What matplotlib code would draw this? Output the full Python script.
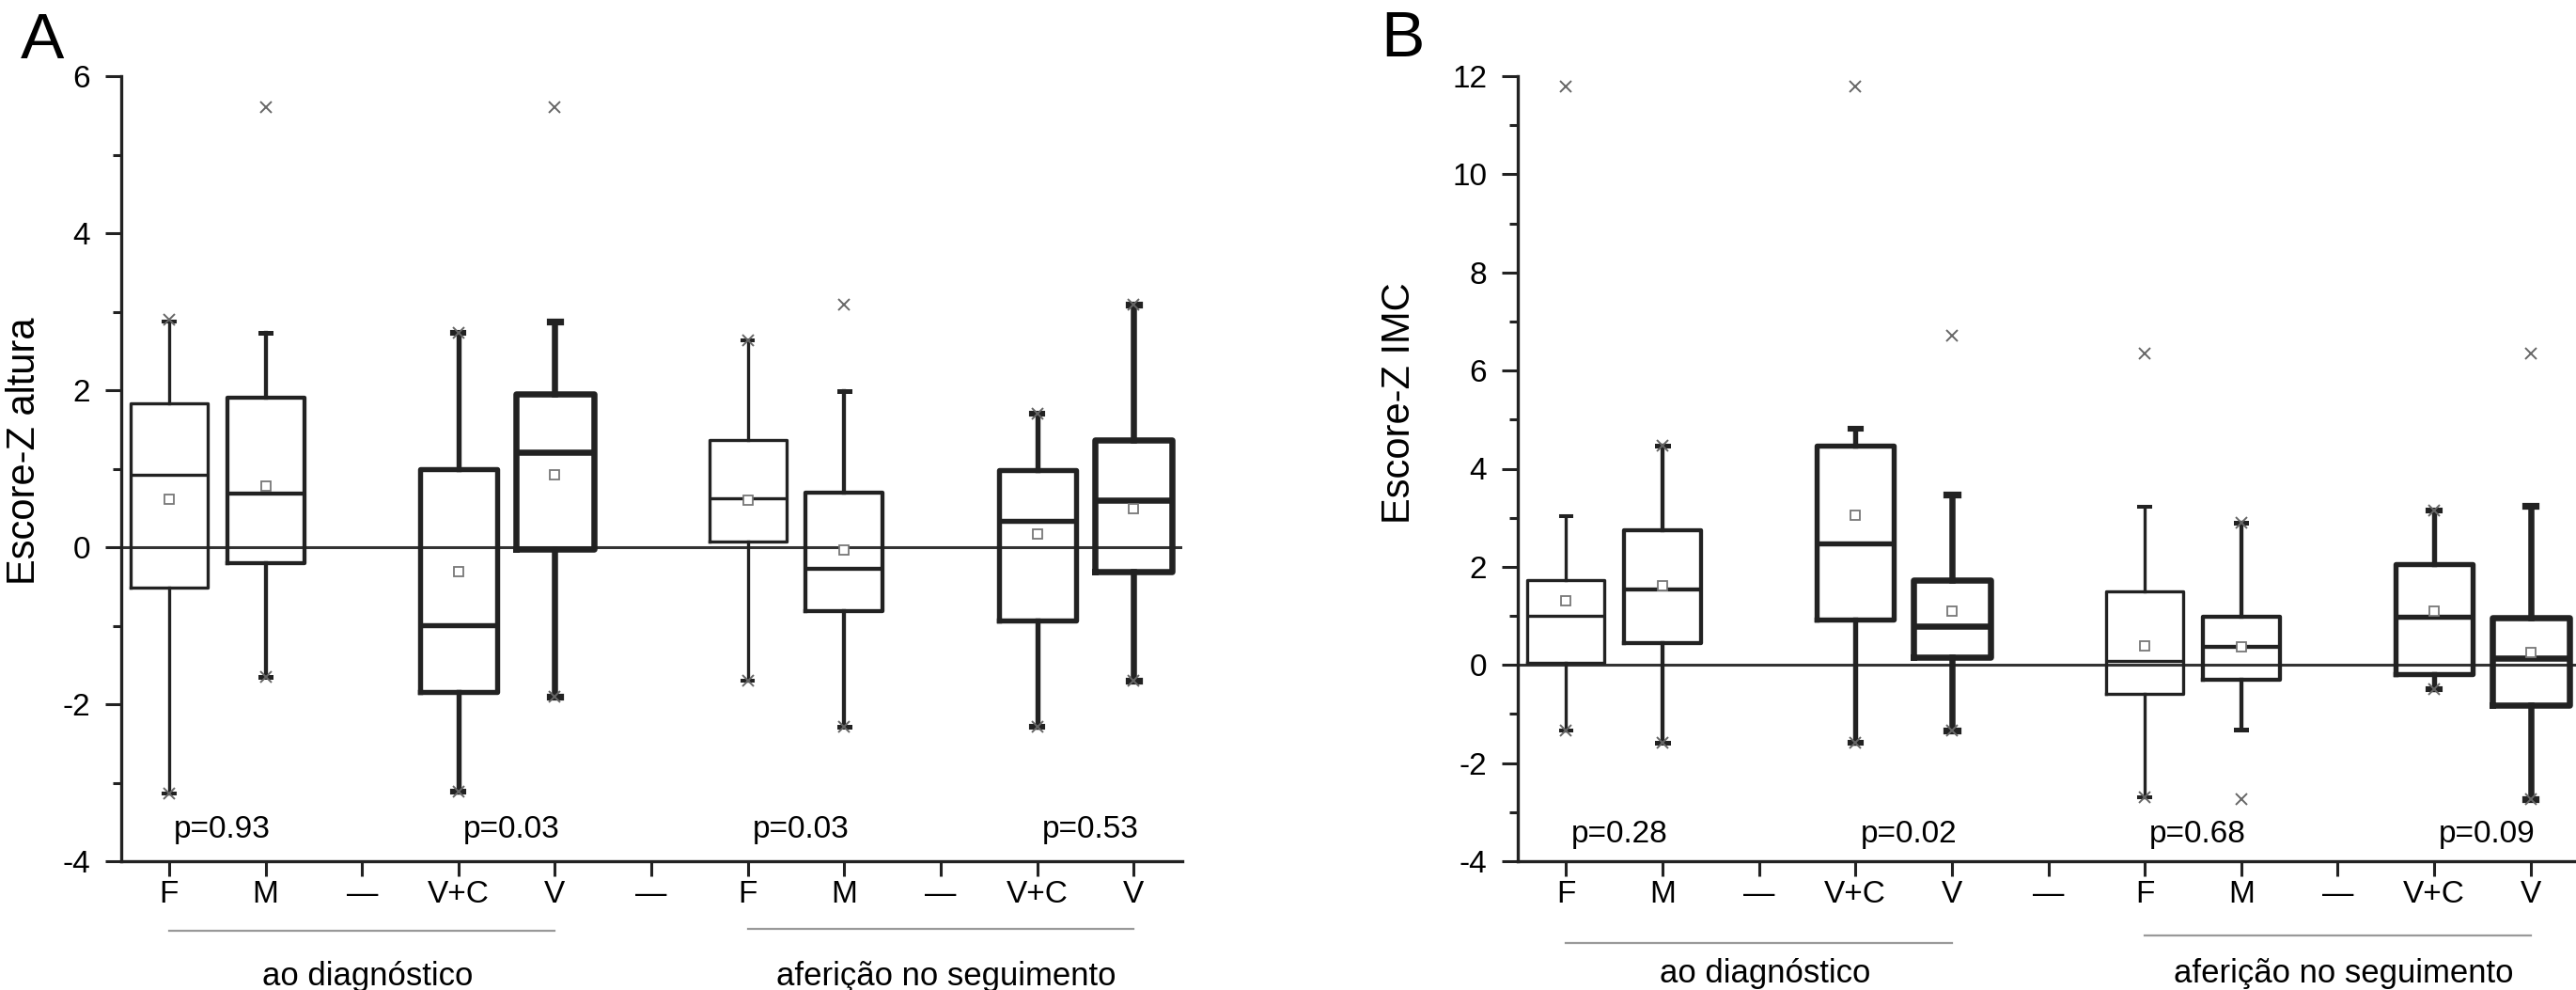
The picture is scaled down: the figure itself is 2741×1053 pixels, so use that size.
import matplotlib
matplotlib.use("Agg")
import matplotlib.pyplot as plt
from matplotlib.ticker import MultipleLocator
import matplotlib.transforms as mtransforms

plt.rcParams['font.family'] = ['Liberation Sans', 'DejaVu Sans']
plt.rcParams['axes.unicode_minus'] = False

# ---------------- data ----------------
categories = ["F", "M", "V+C", "V"]
groups = ["ao diagnóstico", "aferição no seguimento"]
tick_labels = ["F", "M", "—", "V+C", "V", "—", "F", "M", "—", "V+C", "V"]

# Panel A: Escore-Z altura (group 1: F, M, V+C, V ; group 2: F, M, V+C, V)
A_q1 = [-0.52, -0.20, -1.85, -0.02, 0.07, -0.81, -0.93, -0.31]
A_med = [0.92, 0.68, -0.99, 1.21, 0.62, -0.27, 0.33, 0.60]
A_q3 = [1.83, 1.90, 0.99, 1.95, 1.36, 0.69, 0.98, 1.36]
A_lo = [-3.14, -1.65, -3.11, -1.90, -1.70, -2.29, -2.29, -1.70]
A_hi = [2.88, 2.73, 2.73, 2.88, 2.63, 1.99, 1.70, 3.09]
A_mean = [0.61, 0.78, -0.31, 0.92, 0.60, -0.04, 0.17, 0.49]
A_cross = [[2.90, -3.14], [5.61, -1.65], [2.73, -3.11], [5.61, -1.90],
           [2.63, -1.70], [3.09, -2.29], [1.70, -2.29], [3.09, -1.70]]
A_p = ["p=0.93", "p=0.03", "p=0.03", "p=0.53"]

# Panel B: Escore-Z IMC
B_q1 = [0.04, 0.44, 0.92, 0.15, -0.58, -0.31, -0.19, -0.82]
B_med = [1.01, 1.53, 2.47, 0.80, 0.08, 0.36, 0.98, 0.13]
B_q3 = [1.72, 2.74, 4.46, 1.72, 1.49, 0.98, 2.05, 0.96]
B_lo = [-1.34, -1.59, -1.59, -1.34, -2.70, -1.32, -0.50, -2.74]
B_hi = [3.03, 4.46, 4.81, 3.47, 3.22, 2.89, 3.14, 3.24]
B_mean = [1.30, 1.62, 3.05, 1.09, 0.38, 0.37, 1.09, 0.25]
B_cross = [[11.78, -1.34], [4.46, -1.59], [11.78, -1.59], [6.71, -1.34],
           [6.34, -2.70], [2.89, -2.74], [3.14, -0.50], [6.34, -2.74]]
B_p = ["p=0.28", "p=0.02", "p=0.68", "p=0.09"]

# ---------------- style ----------------
W, H, DPI = 2741, 1053, 100
LINE = "#222222"
GRAY = "#666666"
cat_lw = [2.4, 3.1, 3.9, 4.7]

box_pos = [1, 2, 4, 5, 7, 8, 10, 11]
tick_pos = list(range(1, len(tick_labels) + 1))

fig = plt.figure(figsize=(W / DPI, H / DPI), dpi=DPI)
fig.patch.set_facecolor("white")

ax_bottom = (H - 916) / H
ax_height = 835 / H
ax_width = 1129 / W


def draw_panel(ax, q1, med, q3, lo, hi, mean, cross, pvals, ylim, ylabel,
               ylab_xy, line_y, text_y, p_y):
    for i in range(len(q1)):
        cat = i % 4
        lw = cat_lw[cat]
        stats = [dict(med=med[i], q1=q1[i], q3=q3[i], whislo=lo[i], whishi=hi[i],
                      mean=mean[i], fliers=cross[i])]
        ax.bxp(stats, positions=[box_pos[i]], widths=0.8, capwidths=0.11,
               showmeans=True, showfliers=True, manage_ticks=False,
               boxprops=dict(color=LINE, linewidth=lw),
               whiskerprops=dict(color=LINE, linewidth=lw),
               capprops=dict(color=LINE, linewidth=lw + 0.5),
               medianprops=dict(color=LINE, linewidth=lw),
               meanprops=dict(marker="s", markersize=7.5, markerfacecolor="white",
                              markeredgecolor="#777777", markeredgewidth=1.3),
               flierprops=dict(marker="x", markersize=9, markeredgecolor=GRAY,
                               markeredgewidth=1.4, linestyle="none"))
    ax.axhline(0, color="#333333", linewidth=2.2, zorder=1)

    ax.set_xlim(0.5, 11.5)
    ax.set_ylim(*ylim)
    ax.set_xticks(tick_pos)
    ax.set_xticklabels(tick_labels, fontsize=24)
    ax.yaxis.set_major_locator(MultipleLocator(2))
    ax.yaxis.set_minor_locator(MultipleLocator(1))
    ax.tick_params(axis="y", which="major", labelsize=24, length=12.5, width=2.2,
                   pad=11, color=LINE)
    ax.tick_params(axis="y", which="minor", length=6.5, width=2.2, color=LINE)
    ax.tick_params(axis="x", which="major", length=11.5, width=2.2, pad=3, color=LINE)
    ax.tick_params(axis="x", which="minor", bottom=False)
    for s in ("top", "right"):
        ax.spines[s].set_visible(False)
    for s in ("left", "bottom"):
        ax.spines[s].set_linewidth(2.4)
        ax.spines[s].set_color(LINE)

    ax.set_ylabel(ylabel, fontsize=30, va="baseline")
    ax.yaxis.set_label_coords(*ylab_xy)

    trans = mtransforms.blended_transform_factory(ax.transData, ax.transAxes)
    # p-values
    for k, p in enumerate(pvals):
        ax.text(box_pos[2 * k] + 0.55, p_y, p, transform=trans, ha="center",
                va="baseline", fontsize=24)
    # group labels with lines
    for g, name in enumerate(groups):
        x0 = box_pos[4 * g]
        x1 = box_pos[4 * g + 3]
        ax.plot([x0, x1], [line_y[g], line_y[g]], transform=trans, color="#999999",
                linewidth=1.6, clip_on=False)
        ax.text((x0 + x1) / 2 + 0.06, text_y, name, transform=trans, ha="center",
                va="baseline", fontsize=25)


axA = fig.add_axes([128.6 / W, ax_bottom, ax_width, ax_height])
draw_panel(axA, A_q1, A_med, A_q3, A_lo, A_hi, A_mean, A_cross, A_p, (-4, 6),
           "Escore-Z altura", (-0.081, 0.523),
           [(916 - 990) / 835, (916 - 988) / 835], (916 - 1048) / 835,
           (916 - 891) / 835)

axB = fig.add_axes([1615 / W, ax_bottom, ax_width, ax_height])
draw_panel(axB, B_q1, B_med, B_q3, B_lo, B_hi, B_mean, B_cross, B_p, (-4, 12),
           "Escore-Z IMC", (-0.102, 0.584),
           [(916 - 1003) / 835, (916 - 995) / 835], (916 - 1045) / 835,
           (916 - 896) / 835)

fig.text(22 / W, 1 - 62 / H, "A", fontsize=50, ha="left", va="baseline")
fig.text(1469 / W, 1 - 60 / H, "B", fontsize=50, ha="left", va="baseline")

fig.savefig("out.png", dpi=DPI, facecolor="white")
